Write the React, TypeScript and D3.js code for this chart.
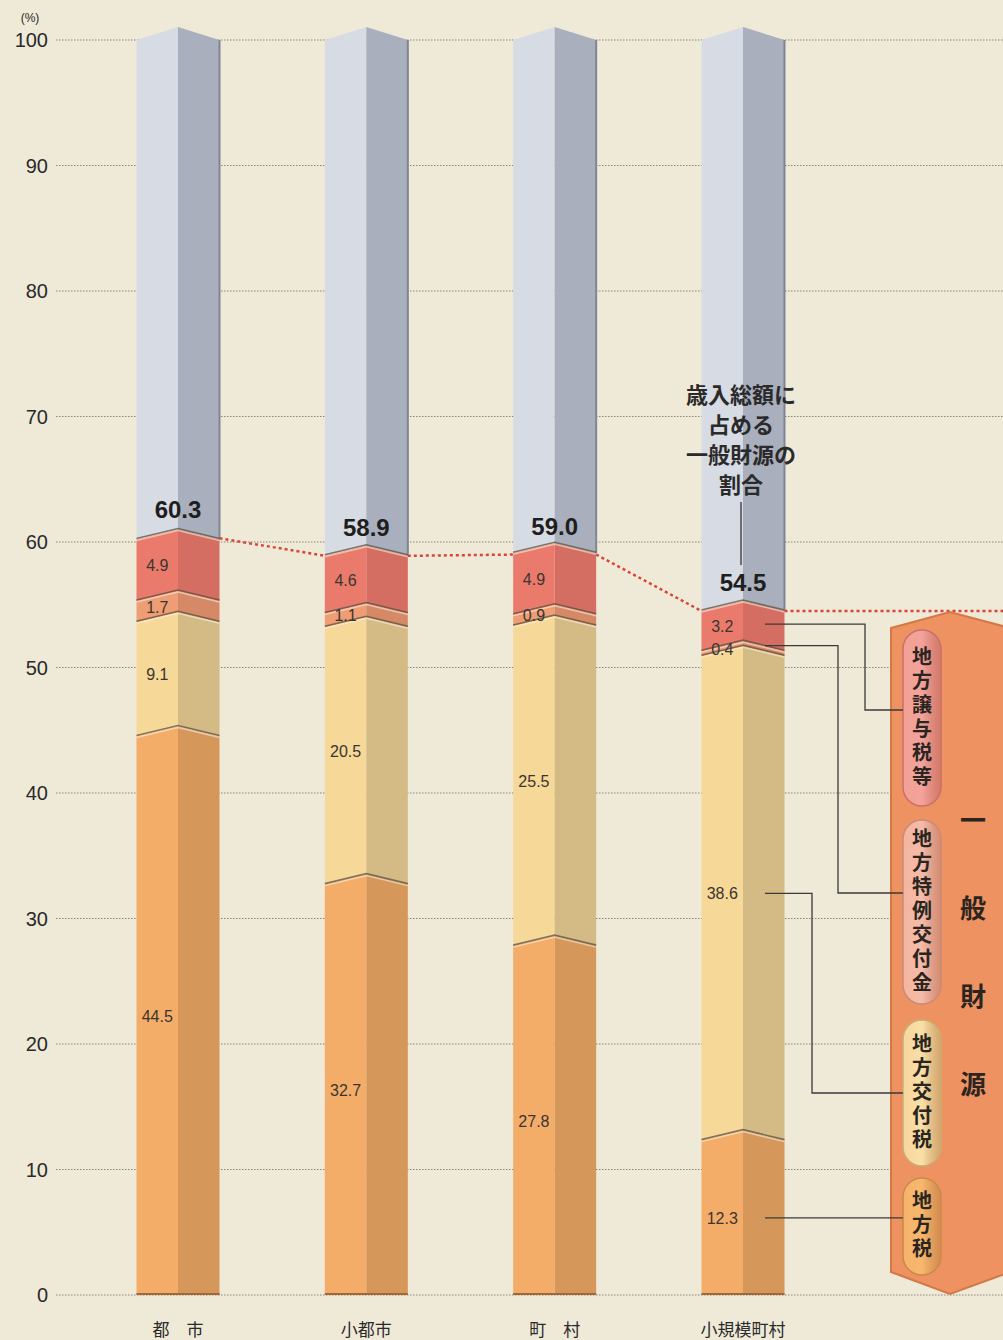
import React from "react";
import * as d3 from "d3";

const categories = ["都　市", "小都市", "町　村", "小規模町村"];
const localTax = [44.5, 32.7, 27.8, 12.3];
const allocTax = [9.1, 20.5, 25.5, 38.6];
const specialGrant = [1.7, 1.1, 0.9, 0.4];
const transferTax = [4.9, 4.6, 4.9, 3.2];
const totals = [60.3, 58.9, 59.0, 54.5];
const yTicks = [0, 10, 20, 30, 40, 50, 60, 70, 80, 90, 100];

const seriesList = [
  { key: "localTax", values: localTax, light: "#F4AD69", dark: "#D6975B" },
  { key: "allocTax", values: allocTax, light: "#F6D898", dark: "#D4BB86" },
  { key: "specialGrant", values: specialGrant, light: "#EE9D74", dark: "#D58966" },
  { key: "transferTax", values: transferTax, light: "#EA7B6C", dark: "#D46E62" },
];

const legendItems = [
  { label: "地方譲与税等", y0: 630, y1: 806, fill: "#F3A39C", stroke: "#C8706A" },
  { label: "地方特例交付金", y0: 820, y1: 1004, fill: "#F5BBA9", stroke: "#C98A78" },
  { label: "地方交付税", y0: 1020, y1: 1166, fill: "#F9E0A8", stroke: "#C9AE72" },
  { label: "地方税", y0: 1178, y1: 1275, fill: "#F7B86E", stroke: "#C98A48" },
];

const W = 1003;
const H = 1340;
const HALF = 41.5;
const CH = 10;

export default function App() {
  const y = d3.scaleLinear().domain([0, 100]).range([1295, 40]);
  const x = d3.scalePoint<string>().domain(categories).range([178, 743]);
  const numFont = "'Liberation Sans', Arial, Helvetica, sans-serif";
  const jpFont = "'Noto Sans CJK JP', 'Noto Sans', sans-serif";

  const seg = (cx: number, b: number, t: number, side: "L" | "R", flatBottom: boolean, topCh: number) => {
    const yb = y(b);
    const yt = y(t);
    const cb = flatBottom ? 0 : CH;
    const edgeX = side === "L" ? cx - HALF : cx + HALF;
    return `M${edgeX},${yt} L${cx},${yt - topCh} L${cx},${yb - cb} L${edgeX},${yb} Z`;
  };

  const bars = categories.map((cat, i) => {
    const cx = x(cat)!;
    const els: React.ReactNode[] = [];
    let base = 0;
    const bounds: { b: number; t: number }[] = [];
    seriesList.forEach((s, si) => {
      const v = s.values[i];
      const b = base;
      const t = base + v;
      bounds.push({ b, t });
      els.push(
        <path key={`${s.key}L`} d={seg(cx, b, t, "L", si === 0, CH)} fill={s.light} />,
        <path key={`${s.key}R`} d={seg(cx, b, t, "R", si === 0, CH)} fill={s.dark} />
      );
      base = t;
    });
    els.push(
      <path key="gL" d={seg(cx, base, 100, "L", false, 13)} fill="#D7DBE3" />,
      <path key="gR" d={seg(cx, base, 100, "R", false, 13)} fill="#A9AFBC" />,
      <line key="gEdge" x1={cx + HALF} x2={cx + HALF} y1={y(100)} y2={y(base)} stroke="#7E8594" strokeWidth={2} />
    );
    bounds.forEach((bd, k) => {
      const yt = y(bd.t);
      els.push(
        <polyline
          key={`bl${k}`}
          points={`${cx - HALF},${yt + 1} ${cx},${yt - CH + 1} ${cx + HALF},${yt + 1}`}
          fill="none"
          stroke="#FFF3DC"
          strokeOpacity={0.55}
          strokeWidth={1.5}
        />,
        <polyline
          key={`bd${k}`}
          points={`${cx - HALF},${yt - 1} ${cx},${yt - CH - 1} ${cx + HALF},${yt - 1}`}
          fill="none"
          stroke="#5E5140"
          strokeOpacity={0.75}
          strokeWidth={1.6}
        />
      );
    });
    els.push(
      <line key="base" x1={cx - HALF} x2={cx + HALF} y1={y(0) - 1} y2={y(0) - 1} stroke="#A0683A" strokeWidth={2} />
    );
    seriesList.forEach((s, si) => {
      const bd = bounds[si];
      const v = s.values[i];
      const cy = y((bd.b + bd.t) / 2) - (si === 0 ? 0 : CH / 2);
      els.push(
        <text
          key={`v${si}`}
          x={cx - HALF / 2}
          y={cy + 6}
          textAnchor="middle"
          fontFamily={numFont}
          fontSize={16}
          fill="#3A3530"
        >
          {v.toFixed(1)}
        </text>
      );
    });
    els.push(
      <text
        key="tot"
        x={cx}
        y={y(totals[i]) - 20}
        textAnchor="middle"
        fontFamily={numFont}
        fontWeight="bold"
        fontSize={24}
        fill="#1E1E1E"
      >
        {totals[i].toFixed(1)}
      </text>
    );
    els.push(
      <text
        key="cat"
        x={cx}
        y={1336}
        textAnchor="middle"
        fontFamily={jpFont}
        fontSize={17}
        fill="#2A2A2A"
      >
        {cat}
      </text>
    );
    return <g key={cat}>{els}</g>;
  });

  const redPts: [number, number][] = [];
  categories.forEach((cat, i) => {
    const cx = x(cat)!;
    redPts.push([cx - HALF, y(totals[i])], [cx + HALF, y(totals[i])]);
  });
  const redSegs: React.ReactNode[] = [];
  for (let i = 0; i < categories.length - 1; i++) {
    const a = redPts[i * 2 + 1];
    const b = redPts[i * 2 + 2];
    redSegs.push(
      <line key={`r${i}`} x1={a[0]} y1={a[1]} x2={b[0]} y2={b[1]} stroke="#D8463A" strokeWidth={2.5} strokeDasharray="3,3" />
    );
  }
  const lastR = redPts[redPts.length - 1];
  redSegs.push(
    <line key="rlast" x1={lastR[0]} y1={lastR[1]} x2={W} y2={lastR[1]} stroke="#D8463A" strokeWidth={2.5} strokeDasharray="3,3" />
  );

  const lastCx = x(categories[3])!;
  const lx = lastCx + 22;
  const cum = (k: number) => {
    let s = 0;
    for (let j = 0; j < k; j++) s += seriesList[j].values[3];
    return s;
  };
  const lblY = (k: number) => y(cum(k) + seriesList[k].values[3] / 2) - (k === 0 ? 0 : CH / 2);
  const leaders = [
    { sy: lblY(3) - 2, vx: 865, ty: 710 },
    { sy: lblY(2) - 3, vx: 838, ty: 893 },
    { sy: lblY(1), vx: 812, ty: 1093 },
    { sy: lblY(0), vx: 903, ty: lblY(0) },
  ];

  const panelPath = `M891,628 L950,612 L1010,628 L1010,1272 L950,1294 L891,1272 Z`;

  return (
    <svg width={W} height={H} style={{ display: "block", position: "absolute", left: 0, top: 0 }}>
      <defs>
        {legendItems.map((it, i) => (
          <linearGradient key={i} id={`pill${i}`} x1="0" x2="1" y1="0" y2="0">
            <stop offset="0" stopColor={it.fill} stopOpacity={0.85} />
            <stop offset="0.5" stopColor={it.fill} />
            <stop offset="1" stopColor={it.stroke} stopOpacity={0.7} />
          </linearGradient>
        ))}
      </defs>
      <rect x={0} y={0} width={W} height={H} fill="#EFE9D8" />
      {yTicks.map((t) => (
        <g key={t}>
          <line x1={56} x2={W} y1={y(t)} y2={y(t)} stroke="#8A847A" strokeWidth={1} strokeDasharray="1.5,1.5" />
          <text
            x={48}
            y={y(t) + 7}
            textAnchor="end"
            fontFamily={numFont}
            fontSize={20}
            fill="#2A2A2A"
          >
            {t}
          </text>
        </g>
      ))}
      <text x={30} y={22} textAnchor="middle" fontFamily={numFont} fontSize={12} fill="#2A2A2A">
        (%)
      </text>
      {bars}
      {redSegs}
      {["歳入総額に", "占める", "一般財源の", "割合"].map((s, i) => (
        <text
          key={s}
          x={741}
          y={403 + i * 30}
          textAnchor="middle"
          fontFamily={jpFont}
          fontWeight="bold"
          fontSize={22}
          fill="#2A2A2A"
        >
          {s}
        </text>
      ))}
      <line x1={741} x2={741} y1={502} y2={565} stroke="#333" strokeWidth={1.3} />
      <path d={panelPath} fill="#EE9262" stroke="#D47845" strokeWidth={2} />
      {legendItems.map((it, i) => {
        const mid = (it.y0 + it.y1) / 2;
        return (
          <g key={it.label}>
            <rect
              x={903}
              y={it.y0}
              width={38}
              height={it.y1 - it.y0}
              rx={19}
              ry={19}
              fill={`url(#pill${i})`}
              stroke={it.stroke}
              strokeWidth={1.5}
            />
            <text
              x={922}
              y={mid}
              textAnchor="middle"
              style={{ writingMode: "vertical-rl" as any }}
              fontFamily={jpFont}
              fontWeight="bold"
              fontSize={20}
              letterSpacing={4}
              fill="#2A2520"
            >
              {it.label}
            </text>
          </g>
        );
      })}
      {["一", "般", "財", "源"].map((ch, i) => (
        <text
          key={ch}
          x={973}
          y={830 + i * 88}
          textAnchor="middle"
          fontFamily={jpFont}
          fontWeight="bold"
          fontSize={26}
          fill="#2A2520"
        >
          {ch}
        </text>
      ))}
      {leaders.map((l, i) => (
        <polyline
          key={i}
          points={`${lx},${l.sy} ${l.vx},${l.sy} ${l.vx},${l.ty} 903,${l.ty}`}
          fill="none"
          stroke="#3A3A3A"
          strokeWidth={1.3}
        />
      ))}
    </svg>
  );
}
